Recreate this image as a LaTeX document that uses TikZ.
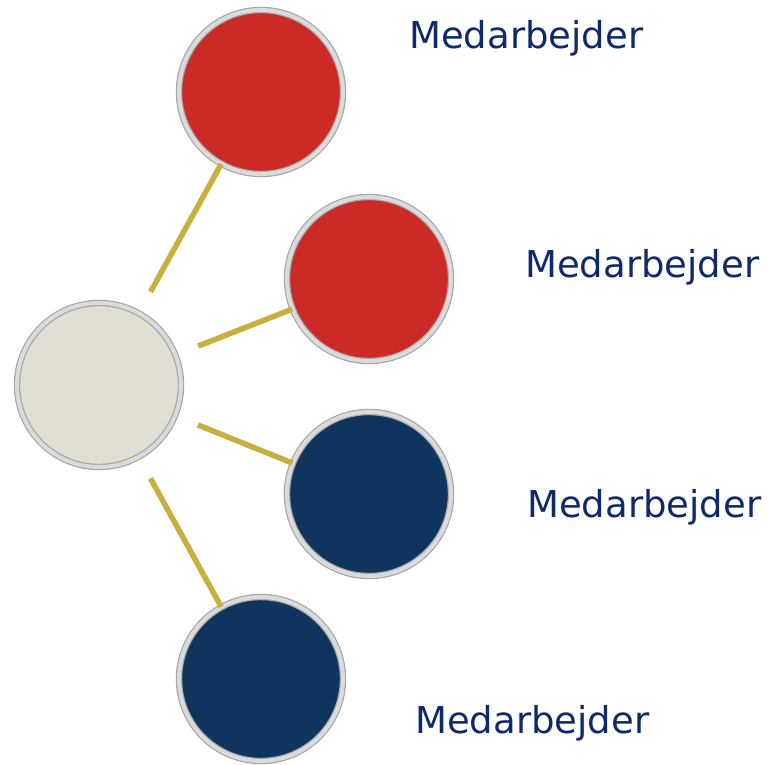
\documentclass[tikz,border=0pt]{standalone}
\usepackage{fontspec}
\setmainfont{DejaVu Sans}
\usetikzlibrary{shadows}

\definecolor{empred}{HTML}{CB2A27}
\definecolor{empblue}{HTML}{0F355F}
\definecolor{hubcream}{HTML}{E1DED3}
\definecolor{linkgold}{HTML}{C8B03E}
\definecolor{labelblue}{HTML}{10296A}

\tikzset{
    ball/.style={circle, minimum size=164pt, inner sep=0, fill=#1,
        draw=gray!70, line width=1.2pt, double=gray!28, double distance=4pt,
        drop shadow={shadow xshift=2.5pt, shadow yshift=-1pt, opacity=0.45}},
    link/.style={linkgold, line width=5.5pt, shorten <=24pt},
    emp-label/.style={anchor=base west, text=labelblue, inner sep=0,
        font=\fontsize{37}{42}\selectfont}
}

\begin{document}
\begin{tikzpicture}[x=1pt, y=-1pt]
\useasboundingbox (0,0) rectangle (769,765);

% Balls
\node[ball=hubcream] (hub-node) at (99,385) {};
\node[ball=empred]   (emp1-node) at (261,92) {};
\node[ball=empred]   (emp2-node) at (369,279) {};
\node[ball=empblue]  (emp3-node) at (369,494) {};
\node[ball=empblue]  (emp4-node) at (261,679) {};

% Links
\draw[link] (hub-node) -- (emp1-node);
\draw[link] (hub-node) -- (emp2-node);
\draw[link] (hub-node) -- (emp3-node);
\draw[link] (hub-node) -- (emp4-node);

% Labels
\node[emp-label] (l1) at (409,49)  {Medarbejder};
\node[emp-label] (l2) at (525,277) {Medarbejder};
\node[emp-label] (l3) at (527,517) {Medarbejder};
\node[emp-label] (l4) at (415,733) {Medarbejder};
\end{tikzpicture}
\end{document}
